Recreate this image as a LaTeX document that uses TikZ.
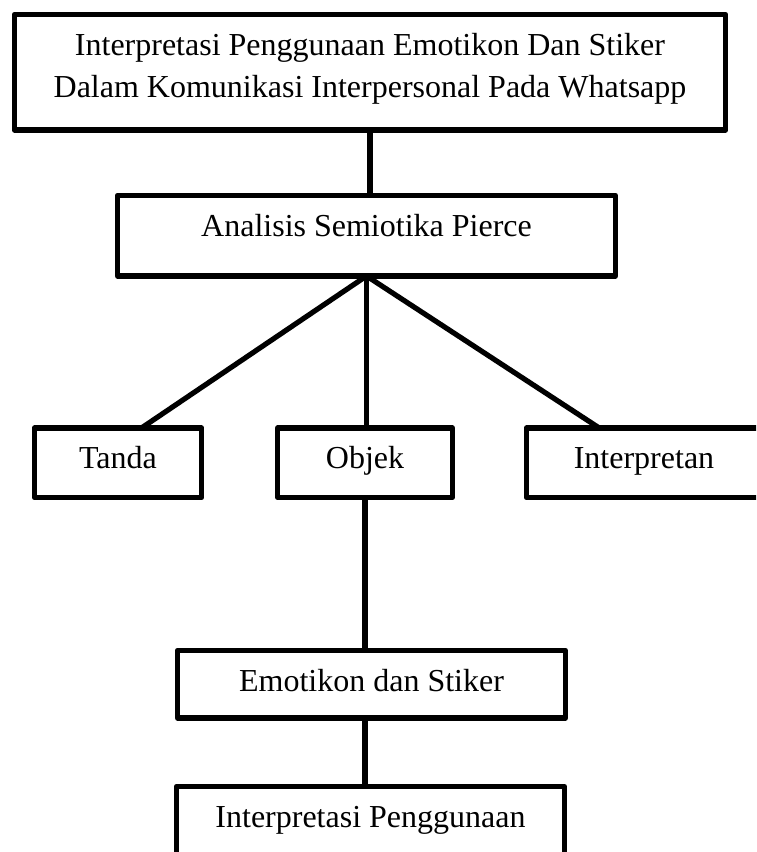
\documentclass[tikz,border=0pt]{standalone}
\usepackage{fontspec}
\setmainfont{Liberation Serif}
\usetikzlibrary{calc}

\begin{document}
\begin{tikzpicture}[x = 0.75pt, y = -0.75pt,
	box/.style = {draw, line width = 3.9pt, line join = round, outer sep = 0pt, inner xsep = 0pt, inner ysep = 0pt, anchor = north, font = \fontsize{24}{31.5}\selectfont, text height = 30.4pt},
	link/.style = {line width = 3.9pt}]

	% Page frame
	
	\clip (0, 0) rectangle (756, 852);

	% Title and method
	
	\node [box, minimum width = 533.6pt, align = center, text height = 61.9pt, text depth = 24.75pt] (title) at (370, 14.5) {Interpretasi Penggunaan Emotikon Dan Stiker\\Dalam Komunikasi Interpersonal Pada Whatsapp};
	\node [box, minimum width = 373.5pt, text height = 31.1pt, text depth = 29.25pt] (method) at (366.5, 195.5) {Analisis Semiotika Pierce};
	
	% Triad
	
	\begin{scope}[every node/.append style = {text height = 30pt, text depth = 21.75pt}]
	
		\node [box, minimum width = 125.6pt] (tanda) at (118, 428) {Tanda};
		\node [box, minimum width = 130.9pt] (objek) at (365, 428) {Objek};
		\node [box, minimum width = 176.6pt] (interpretan) at (644, 428) {Interpretan};
	
	\end{scope}
	
	% Object chain
	
	\node [box, minimum width = 291pt, text depth = 20.25pt] (emotikon) at (371.5, 650.5) {Emotikon dan Stiker};
	\node [box, minimum width = 291pt, text depth = 30pt] (penggunaan) at (370.5, 786.5) {Interpretasi Penggunaan};
	
	% Links
	
	\draw [link] (title.south) -- (title.south |- method.north);
	\draw [link] (method.south) -- ($(tanda.north west)!0.64!(tanda.north east)$);
	\draw [link] (method.south) -- (method.south |- objek.north);
	\draw [link] (method.south) -- ($(interpretan.north west)!0.31!(interpretan.north east)$);
	\draw [link] (objek.south) -- (objek.south |- emotikon.north);
	\draw [link] (objek.south |- emotikon.south) -- (objek.south |- penggunaan.north);

\end{tikzpicture}
\end{document}
